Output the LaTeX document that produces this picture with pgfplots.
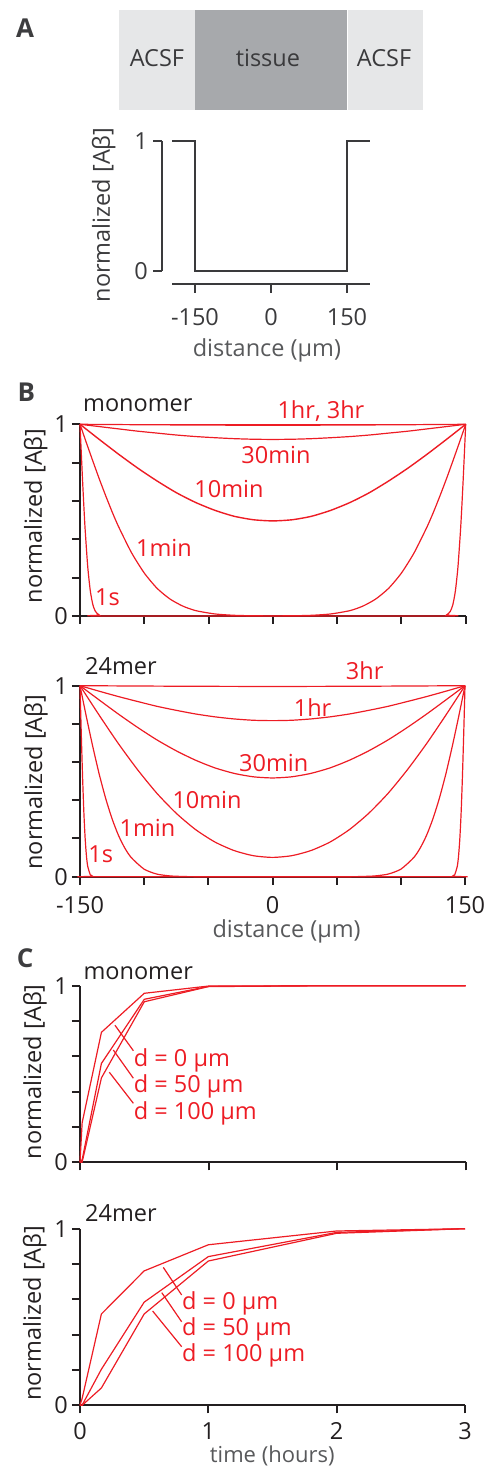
\documentclass[border=0pt]{standalone}
\usepackage{pgfplots}
\pgfplotsset{compat=1.18}
\usepackage{fontspec}
\setmainfont{Open Sans}
\definecolor{myred}{HTML}{ED1C24}
\definecolor{txt}{HTML}{231F20}
\definecolor{gtxt}{HTML}{58595B}
\definecolor{atxt}{HTML}{3A3A3C}
\definecolor{lett}{HTML}{3D3D3F}
\definecolor{acsf}{HTML}{E6E7E8}
\definecolor{tiss}{HTML}{A7A9AC}
\newcommand\fs{\fontsize{23.5}{28}\selectfont}
\newcommand\bfs{\fontsize{26}{30}\selectfont\bfseries}
\pgfplotsset{
  base/.style={scale only axis, clip=false, anchor=south west,
    axis x line*=bottom, axis y line*=left,
    axis line style={line width=2pt, txt, -},
    tick style={line width=2pt, txt}, major tick length=8pt, tick align=outside,
    ticklabel style={font=\fs, text=txt},
    /pgf/number format/assume math mode=true,
    yticklabel style={anchor=east, inner sep=0pt, xshift=-4pt},
    xticklabel style={anchor=base, inner sep=0pt, yshift=-28.5pt},
    ytick={0,0.2,0.4,0.6,0.8,1}, yticklabels={0,,,,,1},
    ymin=0, ymax=1},
}
\tikzset{
  rl/.style={myred, line width=1.2pt, smooth, tension=0.4},
  cl/.style={myred, line width=1.2pt},
  lab/.style={font=\fs, text=myred, inner sep=0pt, anchor=base},
  ttl/.style={font=\fs, text=txt, inner sep=0pt, anchor=base west},
}
\begin{document}
\begin{tikzpicture}
\useasboundingbox (0pt,0pt) rectangle (490pt,1467pt);
\node[anchor=base west, inner sep=0pt, font=\bfs, text=lett] at (16pt,1429.7pt) {A};
\node[anchor=base west, inner sep=0pt, font=\bfs, text=lett] at (17.3pt,1065.3pt) {B};
\node[anchor=base west, inner sep=0pt, font=\bfs, text=lett] at (16.7pt,499.7pt) {C};

% ---------------- Panel A ----------------
\begin{axis}[scale only axis, clip=false, anchor=south west, at={(162pt,1183pt)},
  width=207.8pt, height=143pt, xmin=-215, xmax=195, ymin=-0.1, ymax=1,
  axis x line*=bottom, axis y line*=left, axis line style={draw=none},
  tick style={line width=2.3pt, atxt}, major tick length=9pt, tick align=outside,
  ticklabel style={font=\fs, text=atxt},
  yticklabel style={anchor=east, inner sep=0pt, xshift=-5pt},
  xticklabel style={anchor=base, inner sep=0pt, yshift=-33pt},
  xtick={-150,0,150}, xticklabels={-150,0,150},
  ytick={0,1}, yticklabels={0,1}]
\fill[acsf] (axis cs:-300,1.238) rectangle (axis cs:-150,2.008);
\fill[tiss] (axis cs:-150,1.238) rectangle (axis cs:150,2.008);
\fill[acsf] (axis cs:152,1.238) rectangle (axis cs:300,2.008);
\node[font=\fs, text=atxt, inner sep=0pt, anchor=base] at (axis cs:-225,1.5715) {ACSF};
\node[font=\fs, text=atxt, inner sep=0pt, anchor=base] at (axis cs:-6,1.5715) {tissue};
\node[font=\fs, text=atxt, inner sep=0pt, anchor=base] at (axis cs:223,1.5715) {ACSF};
\draw[line width=2.3pt, atxt] (axis cs:-195,-0.1) -- (axis cs:195,-0.1);
\draw[line width=2.3pt, atxt] (axis cs:-215,0) -- (axis cs:-215,1);
\addplot[atxt, line width=2.5pt] coordinates {(-195,1) (-150,1) (-150,0) (150,0) (150,1) (195,1)};
\node[font=\fs, text=gtxt, inner sep=0pt, anchor=base] at (axis cs:-8,-0.654) {distance (μm)};
\node[font=\fs, text=atxt, inner sep=0pt, anchor=base, rotate=90] at (axis cs:-317.7,0.431) {normalized [Aβ]};
\end{axis}

% ---------------- Panel B top (monomer) ----------------
\begin{axis}[base, at={(80pt,851pt)}, width=385.7pt, height=191.7pt,
  xmin=-150, xmax=150, xtick={-150,-100,-50,0,50,100,150}, xticklabels={}]
\addplot[rl] coordinates {(-150,1) (150,1)};
\addplot[rl] coordinates {(-150,1) (-100,0.9976) (-50,0.9958) (0,0.995) (50,0.9958) (100,0.9976) (150,1)};
\addplot[rl] coordinates {(-150,1) (-135,0.988) (-120,0.976) (-105,0.964) (-90,0.954) (-75,0.944) (-60,0.936) (-45,0.930) (-30,0.925) (-15,0.922) (0,0.921) (15,0.922) (30,0.925) (45,0.930) (60,0.936) (75,0.944) (90,0.954) (105,0.964) (120,0.976) (135,0.988) (150,1)};
\addplot[rl, line width=1.4pt] coordinates {(-150,1) (-135,0.921) (-120,0.844) (-105,0.771) (-90,0.704) (-75,0.643) (-60,0.592) (-45,0.551) (-30,0.520) (-15,0.502) (0,0.496) (15,0.502) (30,0.520) (45,0.551) (60,0.592) (75,0.643) (90,0.704) (105,0.771) (120,0.844) (135,0.921) (150,1)};
\addplot[rl] coordinates {(-150,1) (-145,0.903) (-140,0.808) (-135,0.715) (-130,0.627) (-125,0.543) (-120,0.466) (-110,0.331) (-100,0.224) (-90,0.144) (-80,0.0885) (-70,0.0515) (-60,0.028) (-45,0.0106) (-30,0.0035) (-15,0.0011) (0,0.0006) (15,0.0011) (30,0.0035) (45,0.0106) (60,0.028) (70,0.0515) (80,0.0885) (90,0.144) (100,0.224) (110,0.331) (120,0.466) (125,0.543) (130,0.627) (135,0.715) (140,0.808) (145,0.903) (150,1)};
\addplot[rl] coordinates {(-150,1) (-149,0.851) (-148,0.706) (-147,0.572) (-146,0.451) (-144,0.258) (-142,0.132) (-140,0.059) (-138,0.024) (-135,0.005) (-130,0) (130,0) (135,0.005) (138,0.024) (140,0.059) (142,0.132) (144,0.258) (146,0.451) (147,0.572) (148,0.706) (149,0.851) (150,1)};
\node[ttl] at (axis cs:-147.7,1.066) {monomer};
\node[lab] at (axis cs:37.4,1.031) {1hr, 3hr};
\node[lab] at (axis cs:2.4,0.793) {30min};
\node[lab] at (axis cs:-34.1,0.619) {10min};
\node[lab] at (axis cs:-84.7,0.311) {1min};
\node[lab] at (axis cs:-128.6,0.057) {1s};
\node[font=\fs, text=txt, inner sep=0pt, anchor=base, rotate=90] at (axis cs:-179.6,0.522) {normalized [Aβ]};
\end{axis}

% ---------------- Panel B bottom (24mer) ----------------
\begin{axis}[base, at={(80pt,590.3pt)}, width=385pt, height=191pt,
  xmin=-150, xmax=150, xtick={-150,-100,-50,0,50,100,150}, xticklabels={-150,,,0,,,150}]
\addplot[rl] coordinates {(-150,1) (-75,0.9973) (0,0.996) (75,0.9973) (150,1)};
\addplot[rl] coordinates {(-150,1) (-135,0.971) (-120,0.943) (-105,0.917) (-90,0.892) (-75,0.871) (-60,0.852) (-45,0.837) (-30,0.826) (-15,0.819) (0,0.817) (15,0.819) (30,0.826) (45,0.837) (60,0.852) (75,0.871) (90,0.892) (105,0.917) (120,0.943) (135,0.971) (150,1)};
\addplot[rl] coordinates {(-150,1) (-135,0.925) (-120,0.851) (-105,0.781) (-90,0.716) (-75,0.659) (-60,0.610) (-45,0.570) (-30,0.541) (-15,0.523) (0,0.517) (15,0.523) (30,0.541) (45,0.570) (60,0.610) (75,0.659) (90,0.716) (105,0.781) (120,0.851) (135,0.925) (150,1)};
\addplot[rl] coordinates {(-150,1) (-135,0.845) (-120,0.696) (-105,0.559) (-90,0.436) (-75,0.332) (-60,0.247) (-45,0.182) (-30,0.137) (-15,0.110) (0,0.101) (15,0.110) (30,0.137) (45,0.182) (60,0.247) (75,0.332) (90,0.436) (105,0.559) (120,0.696) (135,0.845) (150,1)};
\addplot[rl] coordinates {(-150,1) (-145,0.836) (-140,0.680) (-135,0.536) (-130,0.410) (-125,0.303) (-120,0.216) (-115,0.149) (-110,0.0996) (-100,0.0392) (-90,0.0135) (-80,0.0041) (-70,0.0011) (-60,0.0002) (0,0) (60,0.0002) (70,0.0011) (80,0.0041) (90,0.0135) (100,0.0392) (110,0.0996) (115,0.149) (120,0.216) (125,0.303) (130,0.410) (135,0.536) (140,0.680) (145,0.836) (150,1)};
\addplot[rl] coordinates {(-150,1) (-149,0.749) (-148,0.524) (-147,0.338) (-146,0.202) (-145,0.110) (-144,0.055) (-142,0.0106) (-140,0.0014) (-138,0) (138,0) (140,0.0014) (142,0.0106) (144,0.055) (145,0.110) (146,0.202) (147,0.338) (148,0.524) (149,0.749) (150,1)};
\node[ttl] at (axis cs:-146.1,1.056) {24mer};
\node[lab] at (axis cs:71.8,1.030) {3hr};
\node[lab] at (axis cs:31.2,0.841) {1hr};
\node[lab] at (axis cs:1.0,0.550) {30min};
\node[lab] at (axis cs:-51.0,0.358) {10min};
\node[lab] at (axis cs:-97.4,0.209) {1min};
\node[lab] at (axis cs:-133.8,0.073) {1s};
\node[font=\fs, text=gtxt, inner sep=0pt, anchor=base] at (axis cs:11,-0.316) {distance (μm)};
\node[font=\fs, text=txt, inner sep=0pt, anchor=base, rotate=90] at (axis cs:-179.6,0.495) {normalized [Aβ]};
\end{axis}

% ---------------- Panel C top (monomer) ----------------
\begin{axis}[base, at={(80pt,304.7pt)}, width=385.7pt, height=176.6pt,
  xmin=0, xmax=3, xtick={0,1,2,3}, xticklabels={}]
\addplot[cl] coordinates {(0,0) (0.0167,0.224) (0.1667,0.736) (0.5,0.957) (1,0.998) (2,1) (3,1)};
\addplot[cl] coordinates {(0,0) (0.0167,0.015) (0.1667,0.56) (0.5,0.923) (1,0.996) (2,1) (3,1)};
\addplot[cl] coordinates {(0,0) (0.0167,0.001) (0.1667,0.478) (0.5,0.909) (1,0.995) (2,1) (3,1)};
\draw[cl] (axis cs:0.415,0.632) -- (axis cs:0.272,0.776);
\draw[cl] (axis cs:0.415,0.476) -- (axis cs:0.259,0.636);
\draw[cl] (axis cs:0.415,0.334) -- (axis cs:0.228,0.510);
\node[font=\fs, text=myred, inner sep=0pt, anchor=base west] at (axis cs:0.418,0.545) {d = 0 μm};
\node[font=\fs, text=myred, inner sep=0pt, anchor=base west] at (axis cs:0.418,0.394) {d = 50 μm};
\node[font=\fs, text=myred, inner sep=0pt, anchor=base west] at (axis cs:0.418,0.245) {d = 100 μm};
\node[ttl] at (axis cs:0.026,1.036) {monomer};
\node[font=\fs, text=txt, inner sep=0pt, anchor=base, rotate=90] at (axis cs:-0.3033,0.512) {normalized [Aβ]};
\end{axis}

% ---------------- Panel C bottom (24mer) ----------------
\begin{axis}[base, at={(80pt,61.7pt)}, width=385pt, height=176.6pt,
  xmin=0, xmax=3, xtick={0,1,2,3}, xticklabels={0,1,2,3},
  xticklabel style={yshift=2pt}]
\addplot[cl] coordinates {(0,0) (0.0167,0.039) (0.1667,0.517) (0.5,0.761) (1,0.909) (2,0.987) (3,1)};
\addplot[cl] coordinates {(0,0) (0.0167,0.001) (0.1667,0.204) (0.5,0.584) (1,0.842) (2,0.979) (3,1)};
\addplot[cl] coordinates {(0,0) (0.0167,0) (0.1667,0.098) (0.5,0.517) (1,0.817) (2,0.974) (3,1)};
\draw[cl] (axis cs:0.792,0.625) -- (axis cs:0.649,0.781);
\draw[cl] (axis cs:0.792,0.473) -- (axis cs:0.637,0.638);
\draw[cl] (axis cs:0.792,0.332) -- (axis cs:0.566,0.534);
\node[font=\fs, text=myred, inner sep=0pt, anchor=base west] at (axis cs:0.795,0.545) {d = 0 μm};
\node[font=\fs, text=myred, inner sep=0pt, anchor=base west] at (axis cs:0.795,0.398) {d = 50 μm};
\node[font=\fs, text=myred, inner sep=0pt, anchor=base west] at (axis cs:0.795,0.247) {d = 100 μm};
\node[ttl] at (axis cs:0.039,1.040) {24mer};
\node[font=\fontsize{22}{26}\selectfont, text=gtxt, inner sep=0pt, anchor=base] at (axis cs:1.498,-0.3267) {time (hours)};
\node[font=\fs, text=txt, inner sep=0pt, anchor=base, rotate=90] at (axis cs:-0.3039,0.521) {normalized [Aβ]};
\end{axis}
\end{tikzpicture}
\end{document}
